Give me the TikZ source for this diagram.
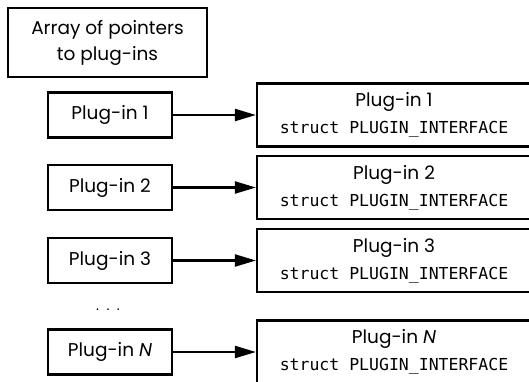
\documentclass[tikz,border=0pt]{standalone}
\usepackage{fontspec}
\setmainfont{Poppins}
\setmonofont{DejaVu Sans Mono}
\usetikzlibrary{arrows.meta}
\begin{document}
\begin{tikzpicture}[x=1pt,y=1pt,
  box/.style={draw, line width=2.2pt, inner sep=0pt},
  ptr/.style={box, minimum width=124pt, minimum height=45pt, font=\fontsize{18.5}{22}\selectfont},
  iface/.style={box, minimum width=274pt, minimum height=63pt, align=center, font=\fontsize{18.5}{27}\selectfont},
  link/.style={line width=2.2pt, -{Triangle[length=21pt,width=12pt]}}]
\path[use as bounding box, clip] (0,0) rectangle (529,-382);
\node[box, minimum width=199pt, minimum height=69pt, align=center, font=\fontsize{18.5}{26}\selectfont] (arr) at (107.5,-42.5) {Array of pointers\\to plug-ins};
\node[ptr] (p1) at (110,-115) {Plug-in 1};
\node[ptr] (p2) at (110,-187.5) {Plug-in 2};
\node[ptr] (p3) at (110,-260.5) {Plug-in 3};
\node[ptr] (pn) at (110,-352) {Plug-in \textit{N}};
\node[font=\fontsize{14}{16}\selectfont, anchor=base] (dots) at (108,-310) {.\ \ .\ \ .};
\newcommand{\ifc}{{\fontsize{16.5}{27}\selectfont\ttfamily struct PLUGIN\_INTERFACE}}
\node[iface] (s1) at (394,-115) {Plug-in 1\\\ifc};
\node[iface] (s2) at (394,-187.5) {Plug-in 2\\\ifc};
\node[iface] (s3) at (394,-260.5) {Plug-in 3\\\ifc};
\node[iface] (sn) at (394,-352) {Plug-in \textit{N}\\\ifc};
\draw[link] (p1) -- (s1);
\draw[link] (p2) -- (s2);
\draw[link] (p3) -- (s3);
\draw[link] (pn) -- (sn);
\end{tikzpicture}
\end{document}
